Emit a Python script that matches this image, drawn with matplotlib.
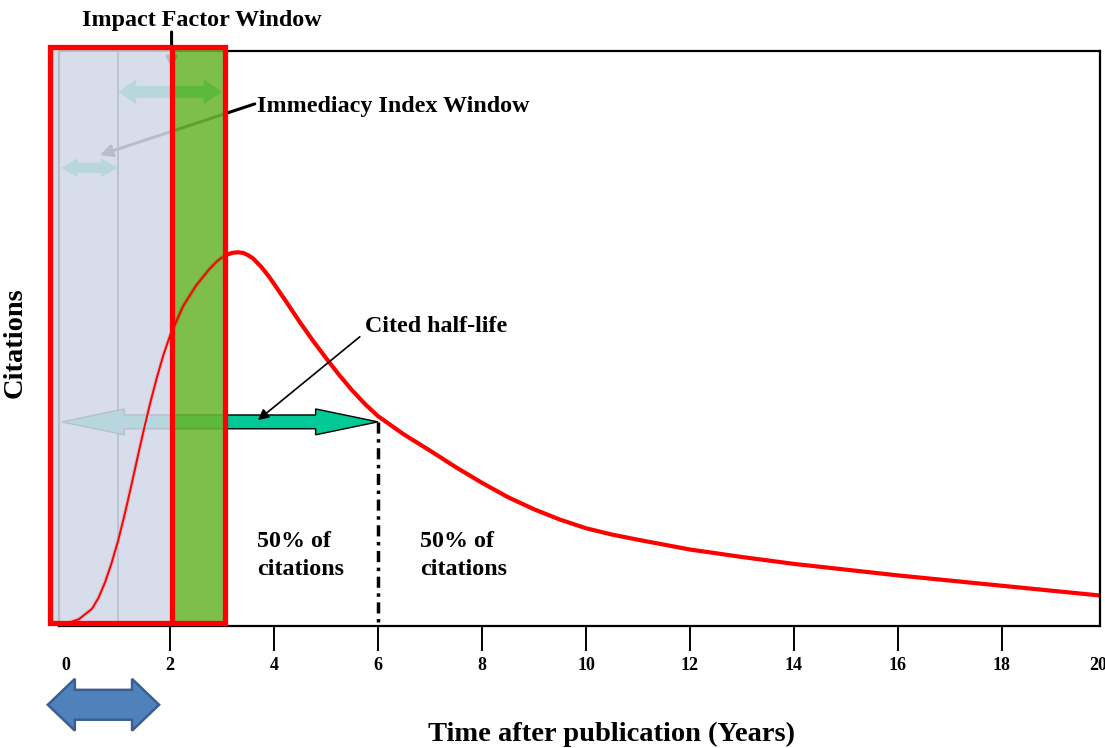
import matplotlib
matplotlib.use("Agg")
import matplotlib.pyplot as plt
from matplotlib.patches import Polygon, Rectangle

plt.rcParams["font.family"] = ["Liberation Serif", "DejaVu Serif"]
plt.rcParams["font.weight"] = "bold"

# ---- data ----
years = [0, 0.25, 0.5, 0.625, 0.75, 0.875, 1.0, 1.125, 1.25, 1.375, 1.5, 1.625,
         1.75, 1.875, 2.0, 2.25, 2.5, 2.75, 2.9, 3.0, 3.1, 3.2, 3.3, 3.4, 3.5,
         3.6, 3.75, 3.9, 4.0, 4.25, 4.5, 4.75, 5.0, 5.25, 5.5, 5.75, 6.0, 6.5,
         7.0, 7.5, 8.0, 8.5, 9.0, 9.5, 10, 10.5, 11, 12, 13, 14, 15, 16, 17, 18,
         19, 20]
citations = [0.4, 1.2, 3.0, 4.9, 7.6, 10.9, 14.8, 19.3, 24.2, 29.3, 34.3, 39.0,
             43.3, 47.2, 50.5, 55.6, 59.2, 62.0, 63.4, 64.1, 64.6, 64.9, 65.0, 64.9, 64.5,
             63.9, 62.5, 60.8, 59.5, 56.2, 52.8, 49.6, 46.6, 43.7, 41.0, 38.6, 36.5, 33.3,
             30.5, 27.6, 24.9, 22.4, 20.3, 18.5, 17.0, 15.9, 15.0, 13.3, 12.0, 10.8, 9.8,
             8.8, 7.9, 7.0, 6.1, 5.2]
tick_years = [0, 2, 4, 6, 8, 10, 12, 14, 16, 18]
half_life = 6.0
half_level = 35.5

RED = "#ff0000"
ARROW_GREEN = "#00c896"
PANEL_BLUE = "#d3d9e9"
PANEL_GREEN = "#6bb731"


def block_arrow(ax, x0, x1, y, shaft, head_w, head_len, both=True, **kw):
    hs, hh = shaft / 2, head_w / 2
    pts = [(x1, y), (x1 - head_len, y + hh), (x1 - head_len, y + hs)]
    if both:
        pts += [(x0 + head_len, y + hs), (x0 + head_len, y + hh), (x0, y),
                (x0 + head_len, y - hh), (x0 + head_len, y - hs)]
    else:
        pts += [(x0, y + hs), (x0, y - hs)]
    pts += [(x1 - head_len, y - hs), (x1 - head_len, y - hh)]
    ax.add_patch(Polygon(pts, closed=True, clip_on=False, **kw))


fig = plt.figure(figsize=(11.05, 7.48), dpi=100)
W, H = 1105, 748
ax = fig.add_axes([59 / W, 1 - 626 / H, (1100 - 59) / W, (626 - 51) / H])
ax.set_xlim(-0.135, 19.885)
ax.set_ylim(0, 100)
for s in ax.spines.values():
    s.set_linewidth(1.6)
    s.set_color("black")

ax.set_yticks([])
ax.set_xticks(tick_years)
ax.set_xticklabels([str(t) for t in tick_years])
ax.tick_params(axis="x", direction="out", length=18, width=1.4, pad=4, labelsize=13)
ax.xaxis.get_major_ticks()[0].tick1line.set_visible(False)
ax.text(19.85, -6.9, "20", ha="center", va="center", fontsize=13, clip_on=False)

# main curve (thick) under the window panels
ax.plot(years, citations, color=RED, lw=3.0, zorder=2, solid_capstyle="butt",
        solid_joinstyle="round")

# year-1 divider line under the panel
ax.plot([1, 1], [0.5, 100.7], color="black", lw=1.2, zorder=2, clip_on=False)

# arrows that sit under the panels
block_arrow(ax, -0.08, half_life, half_level, 2.4, 4.5, 1.2,
            facecolor=ARROW_GREEN, edgecolor="black", lw=1.0, zorder=2)
block_arrow(ax, 1.0, 3.0, 92.9, 2.1, 4.4, 0.35,
            facecolor=ARROW_GREEN, edgecolor="none", zorder=2)
block_arrow(ax, -0.1, 1.0, 79.7, 1.8, 3.3, 0.33,
            facecolor=ARROW_GREEN, edgecolor="none", zorder=2)
ax.annotate("", xy=(0.65, 81.9), xytext=(3.63, 90.8), annotation_clip=False,
            arrowprops=dict(arrowstyle="-|>", color="black", lw=2.2,
                            mutation_scale=18, shrinkA=0, shrinkB=0), zorder=2)
ax.annotate("", xy=(2.03, 97), xytext=(2.03, 103.3), annotation_clip=False,
            arrowprops=dict(arrowstyle="-|>", color="black", lw=2.2,
                            mutation_scale=16, shrinkA=0, shrinkB=0), zorder=2)

# translucent windows
ax.add_patch(Rectangle((-0.31, 0.5), 2.34, 100.2, facecolor=PANEL_BLUE,
                       edgecolor="none", alpha=0.88, zorder=3, clip_on=False))
ax.add_patch(Rectangle((2.03, 0.5), 1.03, 100.2, facecolor=PANEL_GREEN,
                       edgecolor="none", alpha=0.88, zorder=3, clip_on=False))

# thin curve over the windows
early = [i for i, y in enumerate(years) if y <= 3.0]
ax.plot([years[i] for i in early], [citations[i] for i in early],
        color=RED, lw=1.4, zorder=4)

# red window outlines
ax.add_patch(Rectangle((-0.31, 0.5), 3.37, 100.2, facecolor="none",
                       edgecolor=RED, lw=3.8, zorder=5, clip_on=False))
ax.plot([2.03, 2.03], [0.5, 100.7], color=RED, lw=3.8, zorder=5,
        clip_on=False, solid_capstyle="butt")

# half-life marker
ax.plot([half_life, half_life], [half_level, 0], color="black", lw=2.5,
        linestyle=(0, (3.2, 1.6, 1.0, 1.6)), zorder=4)
ax.annotate("", xy=(3.69, 35.8), xytext=(5.65, 50.3),
            arrowprops=dict(arrowstyle="-|>", color="black", lw=1.2,
                            mutation_scale=16, shrinkA=0, shrinkB=0), zorder=6)

# texts
TXT = 17.3
ax.text(0.31, 104.3, "Impact Factor Window", fontsize=TXT, va="baseline",
        clip_on=False, zorder=6)
ax.text(3.67, 89.4, "Immediacy Index Window", fontsize=TXT, va="baseline", zorder=6)
ax.text(5.75, 51.1, "Cited half-life", fontsize=TXT, va="baseline", zorder=6)
for xl in (3.67, 6.81):
    ax.text(xl, 13.7, "50% of", fontsize=TXT, va="baseline", zorder=6)
    ax.text(xl, 8.9, "citations", fontsize=TXT, va="baseline", zorder=6)

# blue double arrow below the axis
block_arrow(ax, -0.35, 1.79, -13.7, 5.2, 9.0, 0.52,
            facecolor="#4f81bd", edgecolor="#3a5f8f", lw=1.8, zorder=6)

fig.text(15 / W, 1 - 343 / H, "Citations", rotation=90, fontsize=20.5,
         ha="center", va="center")
fig.text(612 / W, 7 / H, "Time after publication (Years)", fontsize=20.5,
         ha="center", va="baseline")

fig.savefig("out.png", dpi=100)
